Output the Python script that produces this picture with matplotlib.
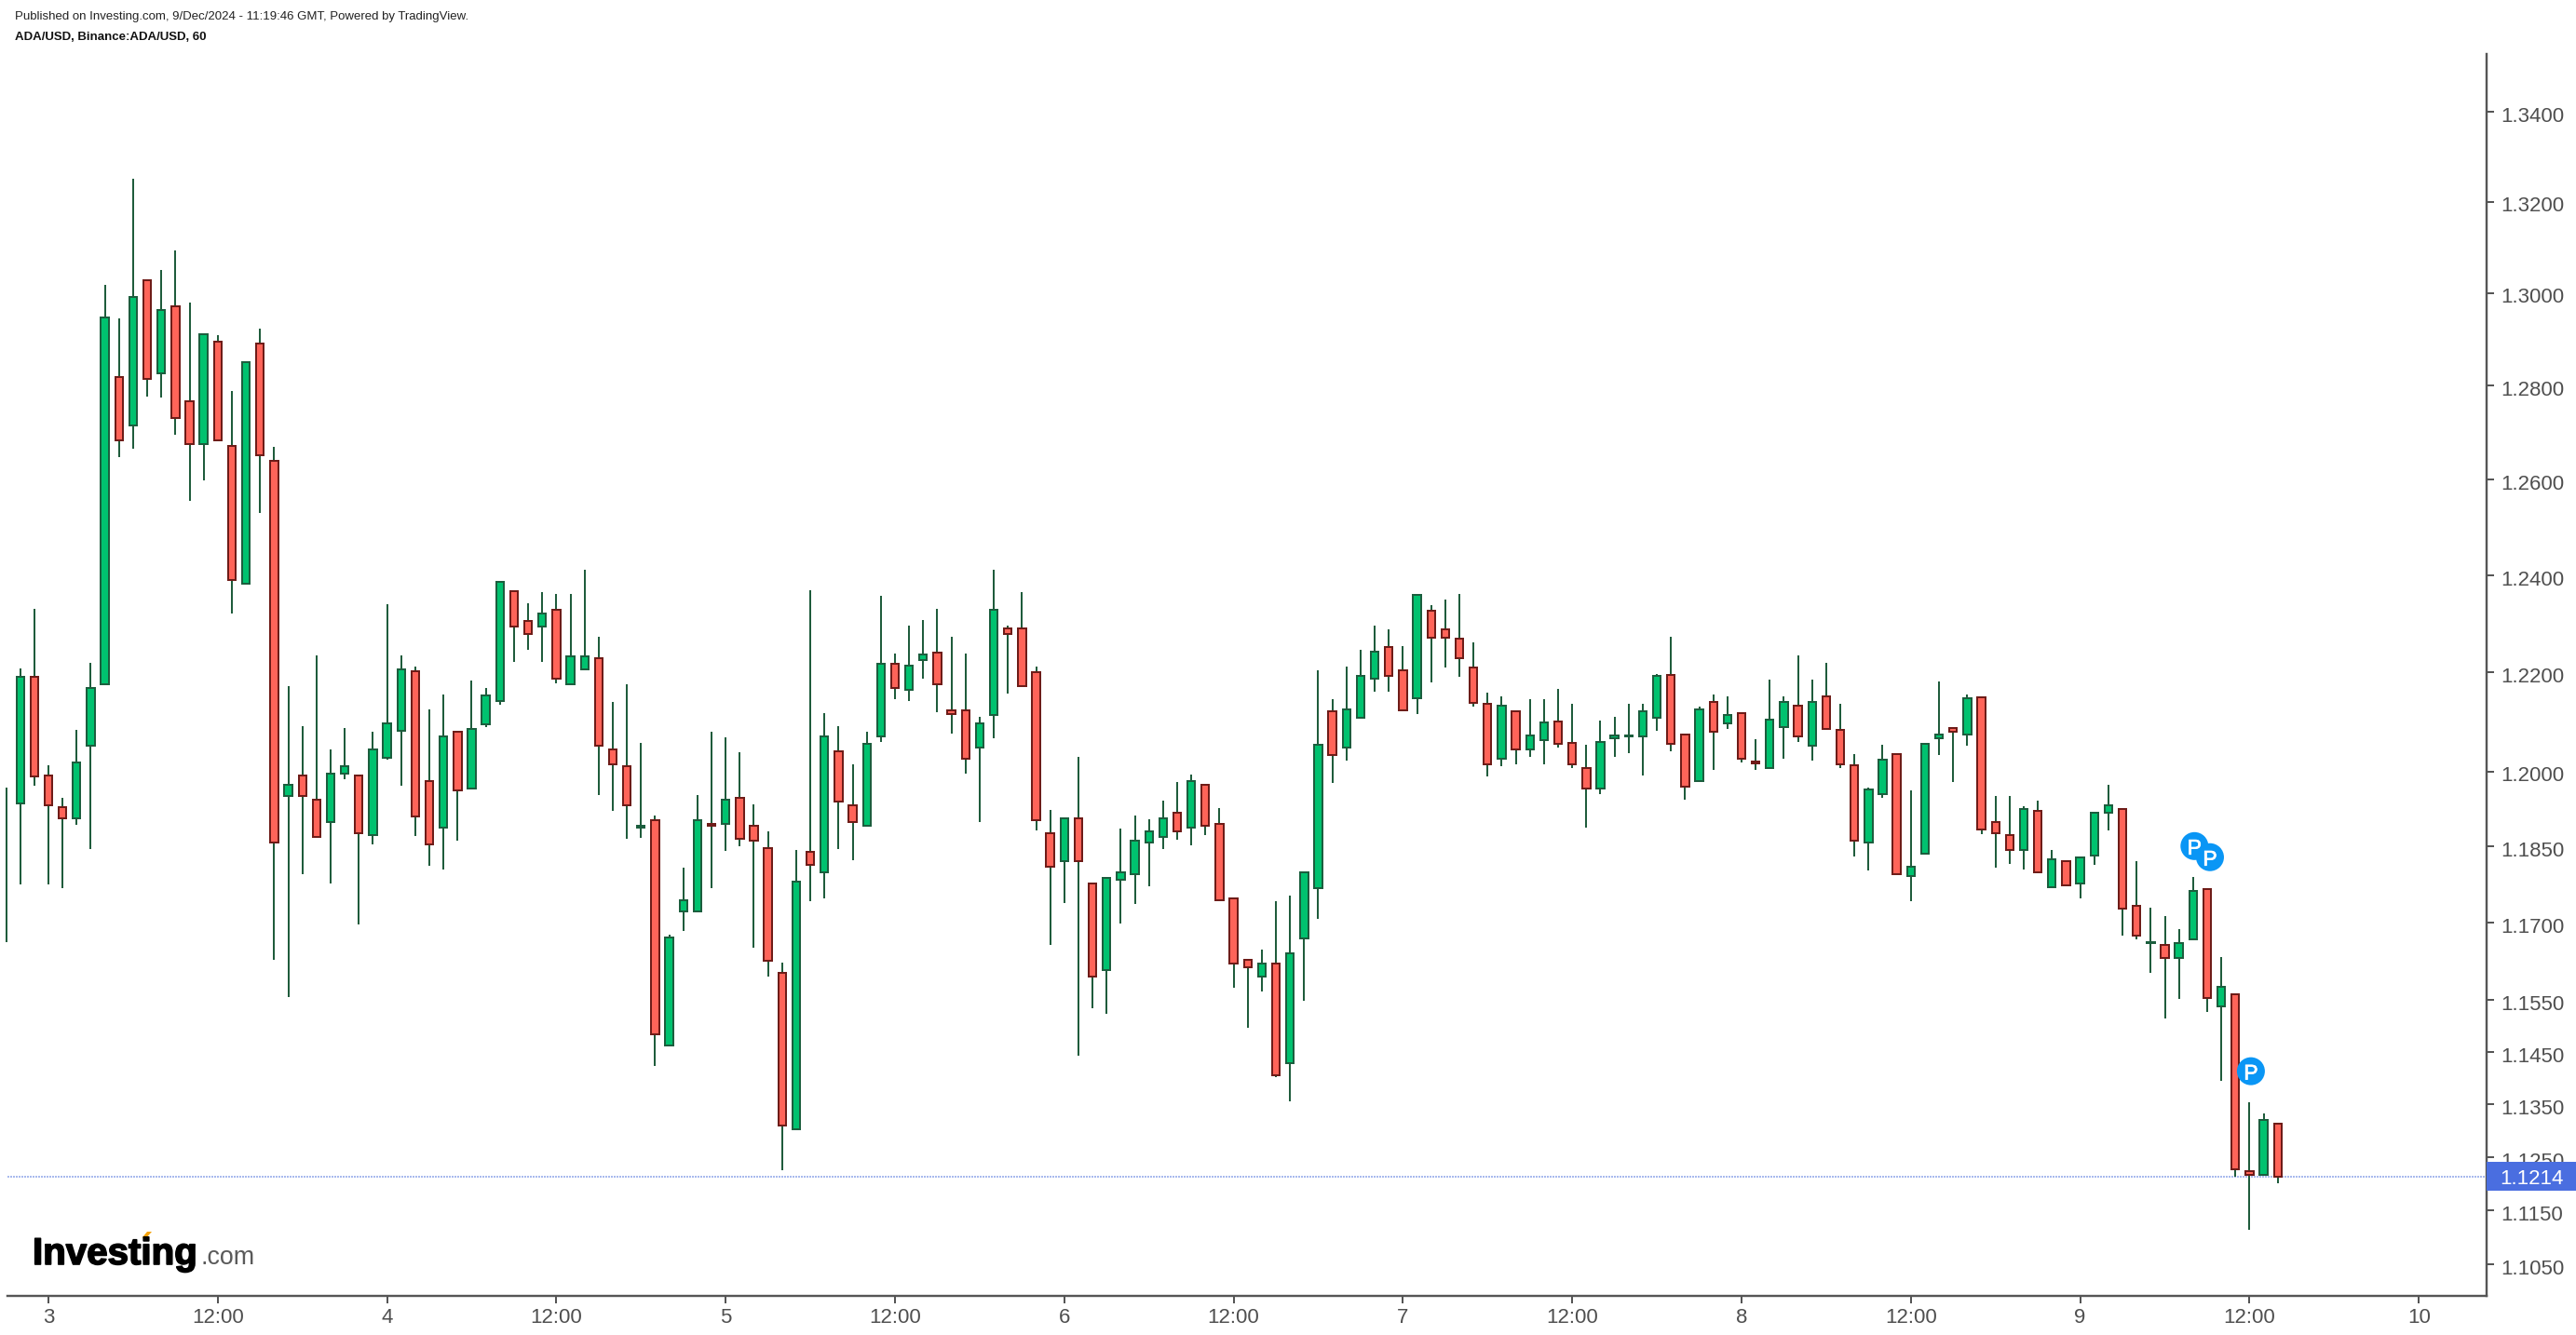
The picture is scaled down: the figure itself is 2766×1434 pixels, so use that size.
#!/usr/bin/env python
"""ADA/USD hourly candles, 3-9 Dec 2024, TradingView style chart from Investing.com."""

import numpy as np
import matplotlib
matplotlib.use("Agg")
import matplotlib.pyplot as plt
import matplotlib.patheffects as pe
from matplotlib.patches import Rectangle, Polygon
from matplotlib.transforms import IdentityTransform, ScaledTranslation

plt.rcParams["font.family"] = ["Liberation Sans", "DejaVu Sans"]

W, H = 2766, 1434
nan = float("nan")

# hours since 3 Dec 00:00, one candle per hour
hours = np.arange(-3, 159)

opens = [
    nan, 1.1936, 1.2192, 1.1992, 1.1928, 1.1906, 1.2051, 1.2177, 1.2818, 1.2715, 1.3027, 1.2826,
    1.2971, 1.2767, 1.2676, 1.2894, 1.2672, 1.2383, 1.2890, 1.2640, 1.1951, 1.1992, 1.1944, 1.1899,
    1.1996, 1.1992, 1.1873, 1.2028, 1.2082, 1.2203, 1.1981, 1.1888, 1.2079, 1.1966, 1.2094, 1.2143,
    1.2368, 1.2306, 1.2295, 1.2329, 1.2177, 1.2207, 1.2230, 1.2045, 1.2011, 1.1888, 1.1903, 1.1463,
    1.1722, 1.1722, 1.1895, 1.1895, 1.1947, 1.1891, 1.1847, 1.1603, 1.1303, 1.1840, 1.1799, 1.2041,
    1.1932, 1.1891, 1.2071, 1.2218, 1.2165, 1.2226, 1.2241, 1.2124, 1.2124, 1.2048, 1.2113, 1.2291,
    1.2291, 1.2200, 1.1876, 1.1821, 1.1906, 1.1777, 1.1607, 1.1784, 1.1796, 1.1858, 1.1869, 1.1917,
    1.1888, 1.1974, 1.1895, 1.1748, 1.1628, 1.1596, 1.1621, 1.1428, 1.1669, 1.1767, 1.2121, 1.2048,
    1.2109, 1.2188, 1.2253, 1.2204, 1.2147, 1.2326, 1.2288, 1.2269, 1.2211, 1.2136, 1.2026, 1.2121,
    1.2045, 1.2063, 1.2101, 1.2057, 1.2007, 1.1966, 1.2066, 1.2070, 1.2071, 1.2108, 1.2196, 1.2075,
    1.1981, 1.2140, 1.2097, 1.2117, 1.2019, 1.2007, 1.2090, 1.2132, 1.2052, 1.2151, 1.2083, 1.2012,
    1.1858, 1.1955, 1.2034, 1.1792, 1.1836, 1.2067, 1.2087, 1.2075, 1.2150, 1.1899, 1.1873, 1.1843,
    1.1921, 1.1770, 1.1821, 1.1777, 1.1832, 1.1917, 1.1925, 1.1733, 1.1660, 1.1657, 1.1632, 1.1668,
    1.1766, 1.1538, 1.1560, 1.1223, 1.1216, 1.1314,
]
highs = [
    1.1968, 1.2208, 1.2331, 1.2013, 1.1947, 1.2084, 1.2220, 1.3017, 1.2945, 1.3250, 1.3027, 1.3049,
    1.3093, 1.2979, 1.2911, 1.2909, 1.2788, 1.2850, 1.2922, 1.2670, 1.2173, 1.2092, 1.2235, 1.2045,
    1.2088, 1.1992, 1.2080, 1.2341, 1.2235, 1.2212, 1.2125, 1.2156, 1.2079, 1.2184, 1.2169, 1.2387,
    1.2368, 1.2343, 1.2366, 1.2362, 1.2362, 1.2411, 1.2273, 1.2141, 1.2177, 1.2058, 1.1912, 1.1676,
    1.1808, 1.1952, 1.2080, 1.2068, 1.2038, 1.1934, 1.1881, 1.1622, 1.1844, 1.2369, 1.2117, 1.2091,
    1.2015, 1.2080, 1.2358, 1.2239, 1.2296, 1.2307, 1.2330, 1.2273, 1.2239, 1.2110, 1.2411, 1.2296,
    1.2366, 1.2212, 1.1922, 1.1906, 1.2030, 1.1777, 1.1788, 1.1886, 1.1911, 1.1904, 1.1942, 1.1979,
    1.1994, 1.1974, 1.1926, 1.1748, 1.1628, 1.1647, 1.1743, 1.1754, 1.1800, 1.2204, 1.2145, 1.2213,
    1.2247, 1.2296, 1.2288, 1.2255, 1.2360, 1.2339, 1.2350, 1.2361, 1.2262, 1.2159, 1.2152, 1.2121,
    1.2145, 1.2145, 1.2166, 1.2137, 1.2054, 1.2102, 1.2110, 1.2137, 1.2137, 1.2197, 1.2273, 1.2075,
    1.2130, 1.2155, 1.2152, 1.2117, 1.2065, 1.2186, 1.2152, 1.2235, 1.2186, 1.2220, 1.2137, 1.2035,
    1.1967, 1.2054, 1.2034, 1.1961, 1.2056, 1.2181, 1.2087, 1.2156, 1.2150, 1.1951, 1.1951, 1.1930,
    1.1942, 1.1844, 1.1821, 1.1829, 1.1917, 1.1974, 1.1925, 1.1822, 1.1730, 1.1713, 1.1687, 1.1790,
    1.1766, 1.1633, 1.1560, 1.1354, 1.1332, 1.1314,
]
lows = [
    1.1662, 1.1775, 1.1972, 1.1775, 1.1768, 1.1893, 1.1845, 1.2177, 1.2648, 1.2666, 1.2777, 1.2775,
    1.2695, 1.2556, 1.2599, 1.2683, 1.2322, 1.2383, 1.2531, 1.1628, 1.1556, 1.1796, 1.1869, 1.1777,
    1.1985, 1.1697, 1.1854, 1.2024, 1.1972, 1.1871, 1.1812, 1.1805, 1.1862, 1.1966, 1.2090, 1.2135,
    1.2222, 1.2247, 1.2222, 1.2179, 1.2177, 1.2207, 1.1953, 1.1921, 1.1865, 1.1867, 1.1423, 1.1463,
    1.1684, 1.1722, 1.1768, 1.1842, 1.1850, 1.1652, 1.1595, 1.1225, 1.1303, 1.1743, 1.1747, 1.1846,
    1.1823, 1.1891, 1.2059, 1.2146, 1.2142, 1.2187, 1.2120, 1.2077, 1.1996, 1.1898, 1.2067, 1.2157,
    1.2173, 1.1883, 1.1656, 1.1739, 1.1442, 1.1534, 1.1523, 1.1699, 1.1736, 1.1772, 1.1846, 1.1864,
    1.1853, 1.1872, 1.1744, 1.1573, 1.1497, 1.1566, 1.1402, 1.1355, 1.1549, 1.1707, 1.1976, 1.2021,
    1.2109, 1.2161, 1.2161, 1.2124, 1.2116, 1.2180, 1.2210, 1.2191, 1.2131, 1.1989, 1.2010, 1.2014,
    1.2029, 1.2014, 1.2048, 1.2006, 1.1887, 1.1954, 1.2029, 1.2036, 1.1992, 1.2081, 1.2040, 1.1943,
    1.1981, 1.2003, 1.2085, 1.2018, 1.2003, 1.2007, 1.2025, 1.2059, 1.2021, 1.2086, 1.2006, 1.1831,
    1.1802, 1.1947, 1.1796, 1.1743, 1.1836, 1.2032, 1.1979, 1.2051, 1.1875, 1.1808, 1.1816, 1.1805,
    1.1800, 1.1770, 1.1774, 1.1747, 1.1813, 1.1883, 1.1674, 1.1667, 1.1602, 1.1515, 1.1552, 1.1668,
    1.1526, 1.1394, 1.1214, 1.1114, 1.1216, 1.1201,
]
closes = [
    nan, 1.2192, 1.1989, 1.1932, 1.1906, 1.2018, 1.2169, 1.2947, 1.2683, 1.2991, 1.2814, 1.2963,
    1.2731, 1.2676, 1.2911, 1.2683, 1.2391, 1.2850, 1.2652, 1.1858, 1.1974, 1.1951, 1.1869, 1.1996,
    1.2011, 1.1876, 1.2045, 1.2097, 1.2207, 1.1910, 1.1854, 1.2071, 1.1962, 1.2086, 1.2154, 1.2387,
    1.2295, 1.2279, 1.2322, 1.2188, 1.2234, 1.2234, 1.2052, 1.2015, 1.1932, 1.1891, 1.1484, 1.1671,
    1.1744, 1.1903, 1.1891, 1.1944, 1.1865, 1.1862, 1.1625, 1.1310, 1.1781, 1.1814, 1.2071, 1.1940,
    1.1899, 1.2056, 1.2218, 1.2169, 1.2215, 1.2237, 1.2177, 1.2116, 1.2026, 1.2097, 1.2329, 1.2279,
    1.2173, 1.1903, 1.1810, 1.1906, 1.1821, 1.1596, 1.1788, 1.1799, 1.1862, 1.1880, 1.1906, 1.1880,
    1.1981, 1.1891, 1.1744, 1.1621, 1.1614, 1.1621, 1.1406, 1.1640, 1.1800, 1.2053, 1.2033, 1.2125,
    1.2193, 1.2242, 1.2193, 1.2124, 1.2360, 1.2272, 1.2272, 1.2230, 1.2139, 1.2015, 1.2132, 1.2045,
    1.2072, 1.2098, 1.2056, 1.2015, 1.1966, 1.2060, 1.2073, 1.2073, 1.2121, 1.2193, 1.2056, 1.1970,
    1.2125, 1.2079, 1.2114, 1.2026, 1.2016, 1.2105, 1.2140, 1.2071, 1.2140, 1.2086, 1.2015, 1.1862,
    1.1963, 1.2023, 1.1796, 1.1810, 1.2056, 1.2075, 1.2079, 1.2147, 1.1884, 1.1876, 1.1843, 1.1925,
    1.1800, 1.1825, 1.1774, 1.1829, 1.1917, 1.1933, 1.1727, 1.1675, 1.1662, 1.1632, 1.1661, 1.1763,
    1.1553, 1.1575, 1.1227, 1.1216, 1.1321, 1.1214,
]

x_tick_hours = [0, 12, 24, 36, 48, 60, 72, 84, 96, 108, 120, 132, 144, 156, 168]
x_tick_labels = ["3", "12:00", "4", "12:00", "5", "12:00", "6", "12:00", "7", "12:00",
                 "8", "12:00", "9", "12:00", "10"]
y_ticks = [1.34, 1.32, 1.30, 1.28, 1.26, 1.24, 1.22, 1.20, 1.185, 1.17, 1.155, 1.145, 1.135,
           1.125, 1.115, 1.105]
last_price = 1.1214

# published idea markers
pin_hours = [152.1, 153.2, 156.1]
pin_prices = [1.1851, 1.1829, 1.1413]

UP = "#00c26f"
UP_EDGE = "#1c5e3e"
DOWN = "#ff6459"
DOWN_EDGE = "#6e1c18"
WICK = "#1f5c3c"
AXIS = "#555555"
TEXT = "#4f4f4f"

px = 72 / 100  # one pixel in points


def main():
    fig = plt.figure(figsize=(W / 100, H / 100), dpi=100, facecolor="white")
    ax = fig.add_axes([8 / W, (H - 1392) / H, (2670 - 8) / W, (1392 - 58) / H])

    o = np.array(opens)
    c = np.array(closes)
    up = c >= o

    # left most candle sits on the edge, only its wick shows
    ax.vlines(hours, lows, highs, color=WICK, linewidth=2 * px, zorder=2, clip_on=False)
    bottoms = np.minimum(o, c)
    heights = np.abs(c - o)
    ax.bar(hours[up], heights[up], bottom=bottoms[up], width=0.55, color=UP,
           edgecolor=UP_EDGE, linewidth=2 * px, zorder=3)
    down = c < o
    ax.bar(hours[down], heights[down], bottom=bottoms[down], width=0.55, color=DOWN,
           edgecolor=DOWN_EDGE, linewidth=2 * px, zorder=3)

    ax.set_yscale("log")
    ax.set_ylim(1.0992, 1.353)
    ax.set_xlim((8 - 52) / 15.15, (2670 - 52) / 15.15)
    ax.axhline(last_price, color="#a9baee", linewidth=2 * px, linestyle=(0, (1, 0.5)), zorder=1)

    ax.yaxis.tick_right()
    ax.set_yticks(y_ticks)
    ax.set_yticklabels([f"{v:.4f}" for v in y_ticks])
    ax.minorticks_off()
    ax.set_xticks(x_tick_hours)
    ax.set_xticklabels(x_tick_labels)
    ax.tick_params(axis="both", length=8 * px, width=2 * px, color=AXIS, labelcolor=TEXT,
                   labelsize=16)
    ax.tick_params(axis="y", pad=7 * px)
    ax.tick_params(axis="x", pad=5 * px)
    # labels sit a touch below their ticks
    nudge = ScaledTranslation(0, -2 / 72, fig.dpi_scale_trans)
    for lab in ax.get_yticklabels():
        lab.set_transform(lab.get_transform() + nudge)
    for s in ("top", "left"):
        ax.spines[s].set_visible(False)
    for s in ("right", "bottom"):
        ax.spines[s].set_color(AXIS)
        ax.spines[s].set_linewidth(2.4 * px)

    # P pins
    ax.scatter(pin_hours, pin_prices, s=(30 * px) ** 2, color="#0a96f5", edgecolor="none", zorder=5)
    for hx, pr in zip(pin_hours, pin_prices):
        ax.text(hx, pr, "P", color="white", fontsize=16.5, ha="center", va="center_baseline", zorder=6,
                path_effects=[pe.withStroke(linewidth=0.5, foreground="white")])

    # last price flag, sits over the tick labels
    y_last = ax.transData.transform((0, last_price))[1]
    flag = Rectangle((2670, y_last - 15.5), 96, 31, transform=IdentityTransform(),
                     facecolor="#4a6ee0", edgecolor="none", zorder=10)
    fig.add_artist(flag)
    fig.text(2684 / W, y_last / H, f"{last_price:.4f}", color="white", fontsize=16,
             va="center_baseline", ha="left", zorder=11)

    # header
    fig.text(16 / W, 1 - 17.5 / H, "Published on Investing.com, 9/Dec/2024 - 11:19:46 GMT, Powered by TradingView.",
             fontsize=9.55, color="#222222", va="center")
    fig.text(16 / W, 1 - 40 / H, "ADA/USD, Binance:ADA/USD, 60", fontsize=9.5, fontweight="bold",
             color="#111111", va="center")

    # logo
    fig.text(35 / W, 1 - 1358 / H, "Investing", fontsize=29, fontweight="bold", color="black",
             va="baseline", path_effects=[pe.withStroke(linewidth=1.2, foreground="black")])
    fig.text(215 / W, 1 - 1358 / H, ".com", fontsize=19.3, color="#5a5a5a", va="baseline")
    spark = Polygon([(155, H - 1332), (163, H - 1323), (158, H - 1323), (153, H - 1329)],
                    closed=True, transform=IdentityTransform(), facecolor="#f5a20a", edgecolor="none")
    fig.add_artist(spark)

    fig.savefig("out.png", dpi=100, facecolor="white")


if __name__ == "__main__":
    main()
